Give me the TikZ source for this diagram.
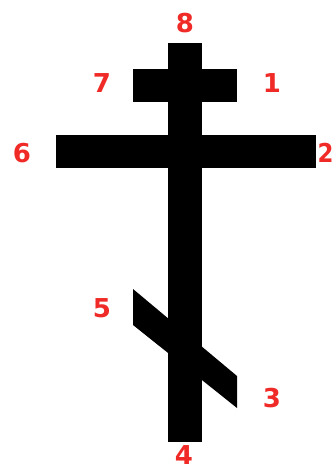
\documentclass[tikz,border=0pt]{standalone}
\usepackage{fontspec}
\setmainfont{DejaVu Sans}
\usepackage{tikz}
\definecolor{numred}{RGB}{240,42,38}

\begin{document}
\begin{tikzpicture}[x=1pt,y=-1pt,
	num/.style={text=numred,font=\fontsize{26}{26}\selectfont\bfseries,inner sep=0pt}]
	\useasboundingbox (0,0) rectangle (335,470);
	\fill[white] (0,0) rectangle (335,470);
	
	% Upright
	\fill (168,43) rectangle (202,442);
	
	% Title board
	\fill (133,69) rectangle (237,102);
	
	% Crossbeam
	\fill (56,135) rectangle (316,168);
	
	% Slanted footrest
	\fill (133,289) -- (237,376) -- (237,408) -- (133,325) -- cycle;
	
	% Numbers
	\node[num] (n8) at (185,23) {8};
	\node[num] (n7) at (102,83) {7};
	\node[num] (n1) at (272,83) {1};
	\node[num] (n6) at (22,153) {6};
	\node[num,anchor=west,xscale=0.88] (n2) at (317.5,153) {2};
	\node[num] (n5) at (102,308) {5};
	\node[num] (n3) at (272,398) {3};
	\node[num] (n4) at (184,455) {4};
\end{tikzpicture}
\end{document}
